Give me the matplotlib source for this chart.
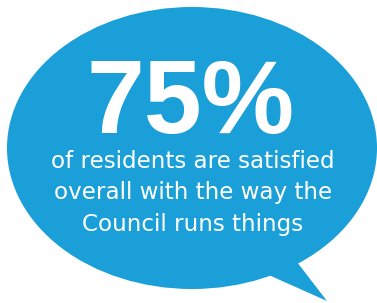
import matplotlib
matplotlib.use("Agg")
import matplotlib.pyplot as plt
from matplotlib.patches import Ellipse, Polygon

W, H = 377, 303
DPI = 100

headline = "75%"
lines = ["of residents are satisfied",
         "overall with the way the",
         "Council runs things"]
line_baselines = [168, 199.5, 230.5]

blue = "#1A9FD9"

fig = plt.figure(figsize=(W / DPI, H / DPI), dpi=DPI)
ax = fig.add_axes([0, 0, 1, 1])
ax.set_xlim(0, W)
ax.set_ylim(H, 0)
ax.axis("off")

ax.add_patch(Ellipse((192, 148), 370, 282, facecolor=blue, edgecolor="none"))
ax.add_patch(Polygon([(262, 272), (327, 301), (297, 262)], closed=True,
                     facecolor=blue, edgecolor="none"))

pt = 72 / DPI
ax.text(191, 133.5, headline, ha="center", va="baseline", color="white",
        fontsize=104 * pt, fontweight="bold", family="Liberation Sans")
for t, y in zip(lines, line_baselines):
    ax.text(193, y, t, ha="center", va="baseline", color="white",
            fontsize=23 * pt, family="DejaVu Sans")

fig.savefig("out.png", dpi=DPI)
